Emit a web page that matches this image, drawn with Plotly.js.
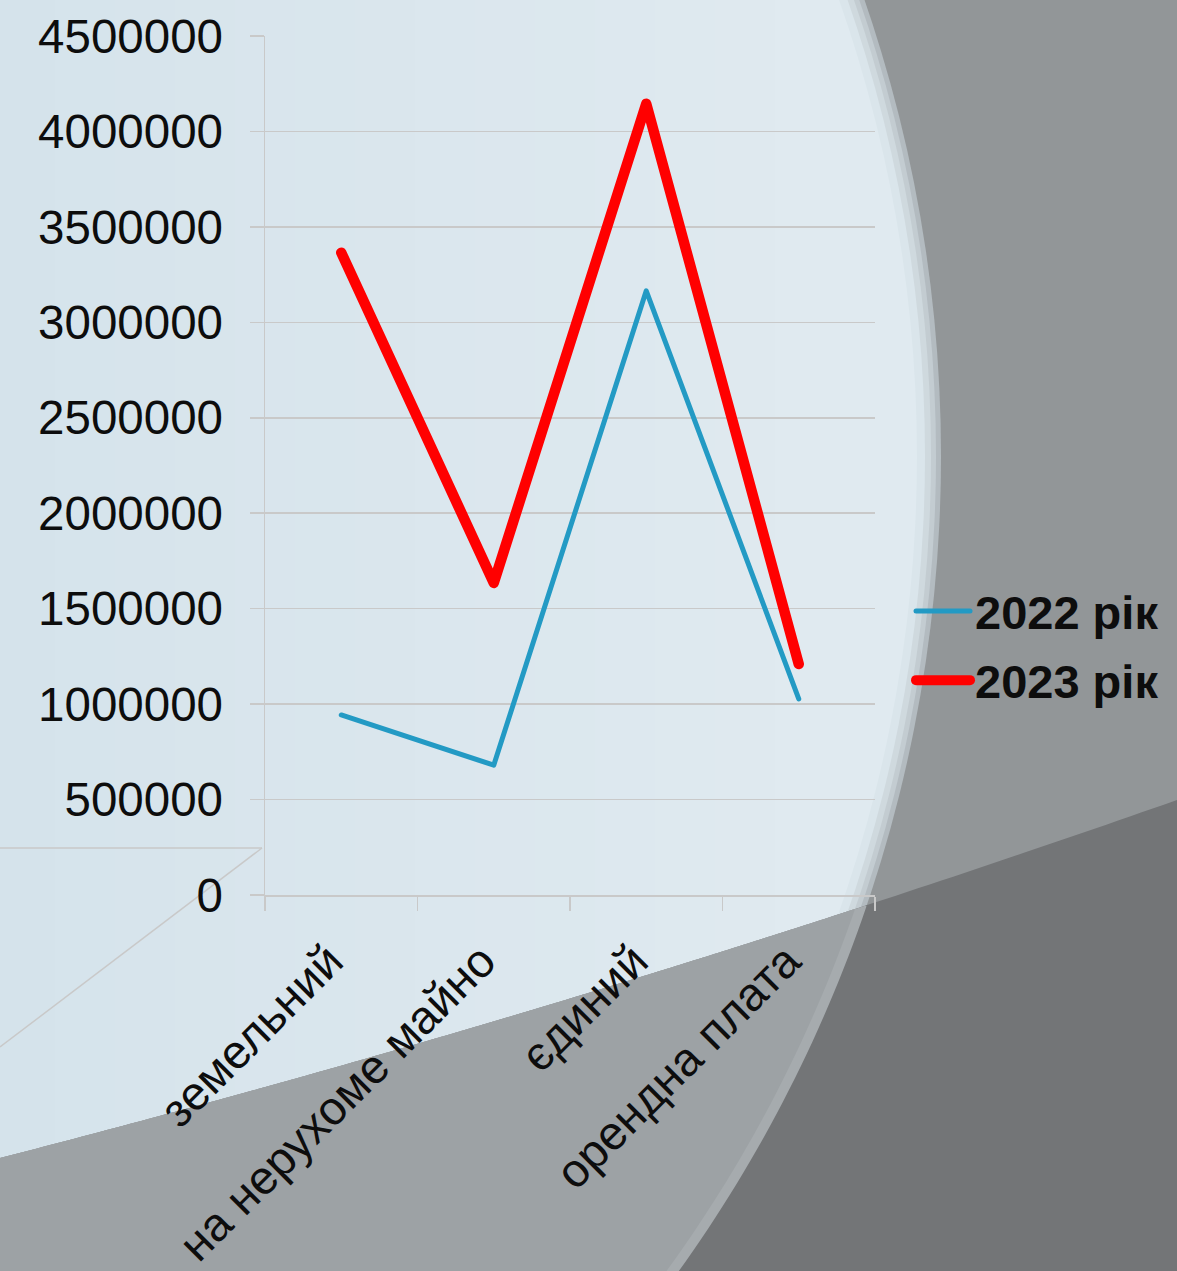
<!DOCTYPE html>
<html>
<head>
<meta charset="utf-8">
<script src="https://cdn.plot.ly/plotly-3.0.1.min.js"></script>
<style>
  html, body { margin: 0; padding: 0; background: #929698; }
  #chart { width: 1177px; height: 1271px; }
</style>
</head>
<body>
<div id="chart"></div>
<script>
// ---- data ----
const categories = ['земельний', 'на нерухоме майно', 'єдиний', 'орендна плата'];
const values2022 = [943000, 680000, 3165000, 1027000];
const values2023 = [3365000, 1635000, 4145000, 1210000];
const seriesNames = ['2022 рік', '2023 рік'];

// ---- layout geometry (pixels) ----
const W = 1177, H = 1271;
const M = { l: 265, r: 302, t: 36, b: 376, autoexpand: false };
const PW = W - M.l - M.r, PH = H - M.t - M.b;
const px = x => (x - M.l) / PW;
const py = y => (M.t + PH - y) / PH;

// background decoration: big light circle, lower band
const C = { x: -457, y: 456 }, R = 1398;
const B0 = [0, 1158], B1 = [588, 1007], B2 = [1177, 800];
function bez(t) {
  const a = (1 - t) * (1 - t), b = 2 * (1 - t) * t, c = t * t;
  return [a * B0[0] + b * B1[0] + c * B2[0], a * B0[1] + b * B1[1] + c * B2[1]];
}
function toPath(pts) {
  return 'M' + pts.map(p => px(p[0]).toFixed(5) + ',' + py(p[1]).toFixed(5)).join('L') + 'Z';
}
function circleShape(r, color) {
  return { type: 'circle', xref: 'paper', yref: 'paper', layer: 'below',
    x0: px(C.x - r), x1: px(C.x + r), y0: py(C.y + r), y1: py(C.y - r),
    fillcolor: color, line: { width: 0 } };
}
function lowerInside(r) {
  const pts = [];
  for (let i = 0; i <= 400; i++) {
    const t = i / 400, p = bez(t);
    if (Math.hypot(p[0] - C.x, p[1] - C.y) > r) break;
    pts.push(p);
  }
  const last = pts[pts.length - 1];
  const a0 = Math.atan2(last[1] - C.y, last[0] - C.x);
  for (let i = 0; i <= 60; i++) {
    const a = a0 + (0.9 - a0) * i / 60;
    pts.push([C.x + r * Math.cos(a), C.y + r * Math.sin(a)]);
  }
  pts.push([-60, 1600]);
  pts.push([-60, 1158]);
  return pts;
}
function lowerAll() {
  const pts = [];
  for (let i = 0; i <= 100; i++) pts.push(bez(i / 100));
  pts.push([1260, 775]); pts.push([1260, 1400]); pts.push([-60, 1400]); pts.push([-60, 1170]);
  return pts;
}
function mix(c1, c2, f) {
  const a = [1, 3, 5].map(i => parseInt(c1.substr(i, 2), 16));
  const b = [1, 3, 5].map(i => parseInt(c2.substr(i, 2), 16));
  return 'rgb(' + a.map((v, i) => Math.round(v + (b[i] - v) * f)).join(',') + ')';
}
const shapes = [
  circleShape(R, '#b3bbc0'),
  circleShape(R - 5, '#c3ccd1'),
  circleShape(R - 10, '#cfd9de'),
  circleShape(R - 16, '#dae5eb'),
  circleShape(R - 24, '#e0eaf0')
];
// soft left-to-right tint of the light disc
const NS = 14, SX0 = -5, SX1 = 835;
for (let i = 0; i < NS; i++) {
  const x0 = SX0 + (SX1 - SX0) * i / NS, x1 = SX0 + (SX1 - SX0) * (i + 1) / NS + 1;
  shapes.push({ type: 'rect', xref: 'paper', yref: 'paper', layer: 'below',
    x0: px(x0), x1: px(x1), y0: py(1250), y1: py(-5),
    fillcolor: mix('#d5e3eb', '#e0eaf0', (i + 0.5) / NS), line: { width: 0 } });
}
shapes.push(
  { type: 'path', xref: 'paper', yref: 'paper', layer: 'below', path: toPath(lowerAll()),
    fillcolor: '#737577', line: { width: 0 } },
  { type: 'path', xref: 'paper', yref: 'paper', layer: 'below', path: toPath(lowerInside(R)),
    fillcolor: '#a6abae', line: { width: 0 } },
  { type: 'path', xref: 'paper', yref: 'paper', layer: 'below', path: toPath(lowerInside(R - 10)),
    fillcolor: '#9da2a5', line: { width: 0 } },
  // decorative floor lines at lower left
  { type: 'line', xref: 'paper', yref: 'paper', layer: 'below',
    x0: px(0), y0: py(848), x1: px(262), y1: py(848), line: { color: '#c9c9c9', width: 1.5 } },
  { type: 'line', xref: 'paper', yref: 'paper', layer: 'below',
    x0: px(262), y0: py(848), x1: px(0), y1: py(1047), line: { color: '#c9c9c9', width: 1.5 } }
);

const FONT = 'Liberation Sans, Arial, sans-serif';
const traces = [
  { x: categories, y: values2022, name: seriesNames[0], type: 'scatter', mode: 'lines',
    line: { color: '#239ac4', width: 5 }, legendgroup: 'a' },
  { x: categories, y: values2023, name: seriesNames[1], type: 'scatter', mode: 'lines',
    line: { color: '#ff0000', width: 10.5 }, legendgroup: 'b' }
];
const axisGrey = '#c9c9c9';
const layout = {
  width: W, height: H,
  margin: M,
  paper_bgcolor: '#929698',
  plot_bgcolor: 'rgba(0,0,0,0)',
  font: { family: FONT, size: 47, color: '#0d0d0d' },
  showlegend: true,
  legend: {
    x: px(911), xanchor: 'left', y: py(574), yanchor: 'top',
    bgcolor: 'rgba(0,0,0,0)', borderwidth: 0,
    font: { family: FONT, size: 47, color: '#0d0d0d', weight: 'bold' },
    traceorder: 'grouped', tracegroupgap: 5, itemwidth: 54
  },
  xaxis: {
    type: 'category', tickson: 'boundaries', ticks: 'outside', ticklen: 14,
    tickcolor: axisGrey, tickwidth: 1.5, showline: true, linecolor: axisGrey, linewidth: 1.5,
    showgrid: false, tickangle: -45, tickfont: { family: FONT, size: 47, color: '#0d0d0d' },
    ticklabelshift: -12, ticklabelstandoff: 18,
    range: [-0.5, 3.5]
  },
  yaxis: {
    range: [0, 4500000], dtick: 500000, tick0: 0, tickformat: 'd',
    showgrid: true, gridcolor: axisGrey, gridwidth: 1.5, zeroline: false,
    showline: true, linecolor: axisGrey, linewidth: 1.5,
    ticks: 'outside', ticklen: 14, tickcolor: axisGrey, tickwidth: 1.5,
    ticklabelstandoff: 17,
    tickfont: { family: FONT, size: 47.5, color: '#0d0d0d' }
  },
  shapes: shapes
};
Plotly.newPlot('chart', traces, layout, { staticPlot: true }).then(() => {
  document.querySelectorAll('.scatterlayer path.js-line, .legend path.js-line').forEach(p => {
    p.style.strokeLinecap = 'round';
    p.style.strokeLinejoin = 'round';
  });
});
</script>
</body>
</html>
